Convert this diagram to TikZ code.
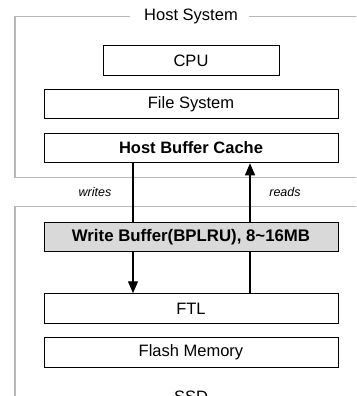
\documentclass[tikz,border=0pt]{standalone}
\usepackage{fontspec}
\setmainfont{Liberation Sans}
\usetikzlibrary{arrows.meta}
\begin{document}
\begin{tikzpicture}[x=1pt,y=-1pt,
  layer/.style={draw=black,line width=1pt,minimum height=29.5pt,inner sep=0pt,
    font=\fontsize{16.5}{17}\selectfont},
  frame/.style={draw=black!28,line width=1.4pt},
  flow/.style={draw=black,line width=1.1pt,-{Triangle[length=12pt,width=10pt]}},
  tag/.style={font=\itshape\fontsize{12.5}{13}\selectfont}]
\useasboundingbox (0,0) rectangle (356,396);
\clip (0,0) rectangle (356,396);

% enclosing frames
\draw[frame] (130,16.5) -- (15,16.5) -- (15,177.5) -- (360,177.5);
\draw[frame] (249,16.5) -- (360,16.5);
\draw[frame] (360,206.5) -- (15,206.5) -- (15,400);
\node[font=\fontsize{16.5}{17}\selectfont] (host) at (191,16.5) {Host System};
\node[font=\fontsize{16.5}{17}\selectfont,anchor=base] (ssd) at (191,402.5) {SSD};

% layers
\node[layer,minimum width=176pt] (cpu) at (191,60.5) {CPU};
\node[layer,minimum width=294pt] (fs) at (191,104) {File System};
\node[layer,minimum width=294pt,font=\bfseries\fontsize{16.5}{17}\selectfont] (hbc) at (191,148) {Host Buffer Cache};
\node[layer,minimum width=294pt] (ftl) at (191,308.5) {FTL};
\node[layer,minimum width=294pt] (flash) at (191,352.5) {Flash Memory};

% request paths
\coordinate (wcol) at (133,0);
\coordinate (rcol) at (250,0);
\draw[flow] (hbc.south -| wcol) -- (ftl.north -| wcol);
\draw[flow] (ftl.north -| rcol) -- (hbc.south -| rcol);
\node[tag] (wr) at (95,192) {writes};
\node[tag] (rd) at (285,192) {reads};

% write buffer sits over the paths
\node[layer,minimum width=294pt,fill=black!15,font=\bfseries\fontsize{16.8}{17}\selectfont] (wb) at (191,237) {Write Buffer(BPLRU), 8\char"007E 16MB};
\end{tikzpicture}
\end{document}
